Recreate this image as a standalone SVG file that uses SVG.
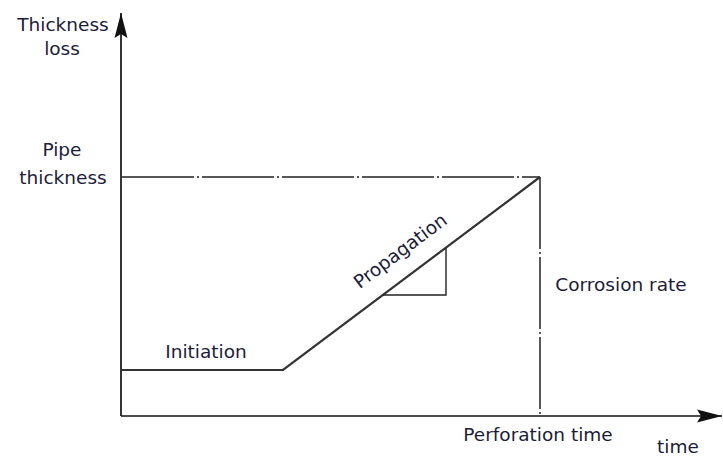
<svg xmlns="http://www.w3.org/2000/svg" width="723" height="457" viewBox="0 0 723 457">
<style>
text{font-family:"DejaVu Sans",sans-serif;font-size:18.5px;fill:#1c1c3a}
.ax{stroke:#111;stroke-width:1.7;fill:none}
.dd{stroke:#222;stroke-width:1.5;fill:none;stroke-dasharray:72 3 2 3}
.ln{stroke:#333;stroke-width:2.2;fill:none}
.tri{stroke:#222;stroke-width:1.4;fill:none}
</style>
<defs>
<marker id="ah" markerWidth="26" markerHeight="14" refX="25" refY="7" orient="auto" markerUnits="userSpaceOnUse">
<path d="M0,0.5 L25,7 L0,13.5 L4,7 Z" fill="#111"/>
</marker>
</defs>
<g id="connectors">
<line class="ax" x1="121" y1="416" x2="121" y2="13" marker-end="url(#ah)"/>
<line class="ax" x1="121" y1="416" x2="722" y2="416" marker-end="url(#ah)"/>
<line class="dd" x1="122" y1="177" x2="540" y2="177"/>
<line class="dd" x1="540" y1="177" x2="540" y2="416"/>
<polyline class="ln" points="121,370 283,370 540,177"/>
<polyline class="tri" points="446,248 446,295 383,295"/>
</g>
<g id="label-thickness-loss"><text x="63" y="31" text-anchor="middle">Thickness</text><text x="62" y="55" text-anchor="middle">loss</text></g>
<g id="label-pipe-thickness"><text x="62" y="156" text-anchor="middle">Pipe</text><text x="63" y="184" text-anchor="middle">thickness</text></g>
<g id="label-initiation"><text x="206" y="358" text-anchor="middle">Initiation</text></g>
<g id="label-propagation"><text x="0" y="0" text-anchor="middle" transform="translate(404,256) rotate(-36.9)">Propagation</text></g>
<g id="label-corrosion-rate"><text x="621" y="291" text-anchor="middle">Corrosion rate</text></g>
<g id="label-perforation-time"><text x="538" y="441" text-anchor="middle">Perforation time</text></g>
<g id="label-time"><text x="678" y="453" text-anchor="middle">time</text></g>
</svg>
